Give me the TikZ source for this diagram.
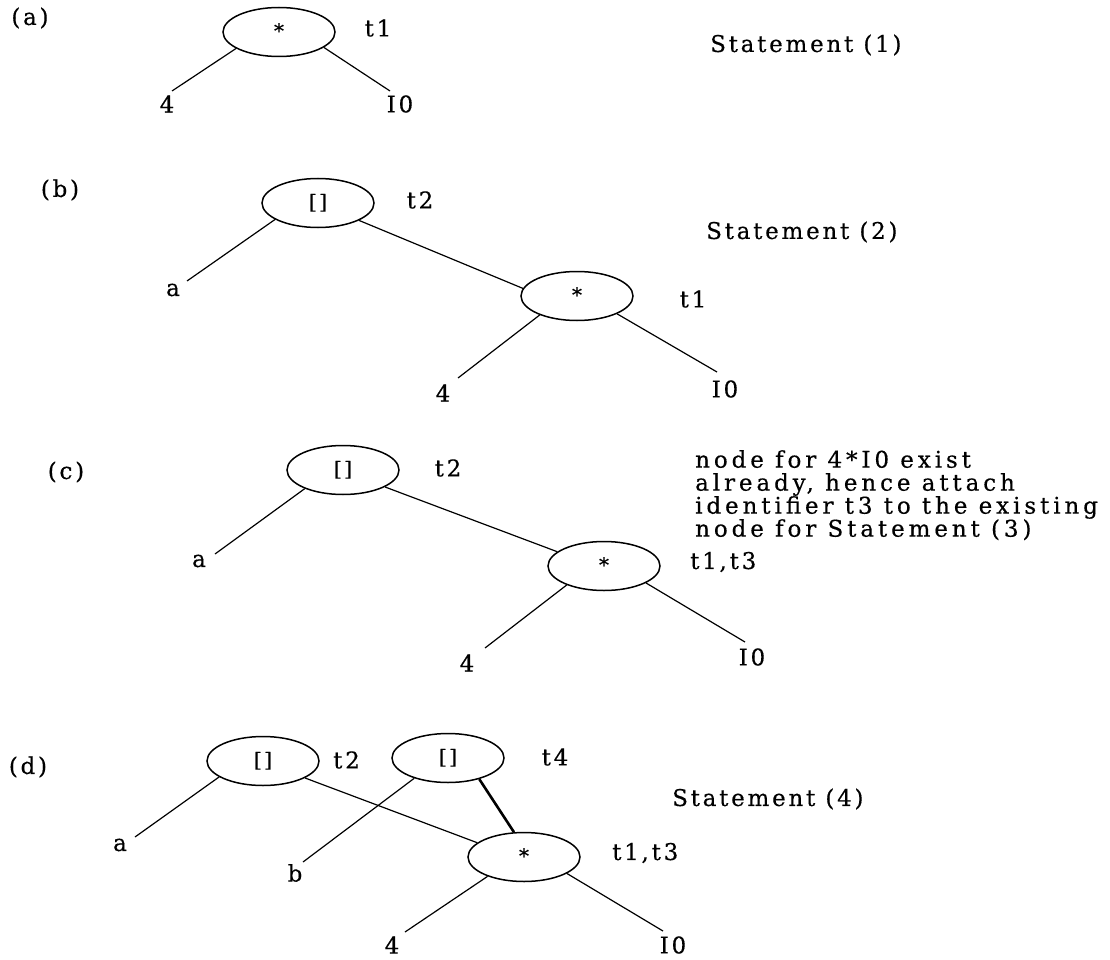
\documentclass[tikz,border=0pt]{standalone}
\usepackage{fontspec}
\newfontfamily\lf[LetterSpace=12,FakeBold=0.4]{DejaVu Serif}
\newfontfamily\pf[LetterSpace=17,FakeBold=0.4]{DejaVu Serif}
\usetikzlibrary{shapes.geometric}
\begin{document}
\begin{tikzpicture}[x=1pt,y=-1pt,
  lab/.style={font=\lf\fontsize{23}{26}\selectfont, inner sep=0pt},
  para/.style={font=\pf\fontsize{23}{23}\selectfont, align=left, inner sep=0pt},
  op/.style={draw, ellipse, minimum width=112pt, minimum height=49pt, inner sep=0pt,
    line width=1.5pt, text height=15pt, text depth=3pt, font=\lf\fontsize{20}{22}\selectfont},
  edge/.style={line width=1.2pt},
  heavy/.style={line width=2.6pt}]
\useasboundingbox (0,0) rectangle (1110,960);

% ---------- (a)
\node[lab] (alab) at (30,18) {(a)};
\node[op] (aop) at (279,32) {*};
\node[lab] (at1) at (378,28) {t1};
\node[lab] (a4) at (167,104) {4};
\node[lab] (aI) at (400,104) {I0};
\node[lab, anchor=west] (astat) at (710,45) {Statement (1)};
\draw[edge] (aop.201) -- ([shift={(5,-13)}]a4.center);
\draw[edge] (aop.341) -- ([shift={(-10,-13)}]aI.center);

% ---------- (b)
\node[lab] (blab) at (60,190) {(b)};
\node[op] (bsub) at (318,203) {[]};
\node[lab] (bt2) at (420,200) {t2};
\node[lab, anchor=west] (bstat) at (706,232) {Statement (2)};
\node[lab] (ba) at (173,290) {a};
\node[op] (bmul) at (577,296) {*};
\node[lab] (bt1) at (693,299) {t1};
\node[lab] (b4) at (443,393) {4};
\node[lab] (bI) at (725,389) {I0};
\draw[edge] (bsub.201) -- ([shift={(14,-9)}]ba.center);
\draw[edge] (bsub.337) -- (bmul.172);
\draw[edge] (bmul.207) -- ([shift={(15,-15)}]b4.center);
\draw[edge] (bmul.336) -- ([shift={(-8,-17)}]bI.center);

% ---------- (c)
\node[lab] (clab) at (66,472) {(c)};
\node[op] (csub) at (343,470) {[]};
\node[lab] (ct2) at (448,468) {t2};
\node[para, anchor=north west] (cnote) at (695,450)
  {node for 4*I0 exist\\already, hence attach\\identifier t3 to the existing\\node for Statement (3)};
\node[lab] (ca) at (199,561) {a};
\node[op] (cmul) at (604,566) {*};
\node[lab, anchor=west] (ct13) at (690,562) {t1,t3};
\node[lab] (c4) at (467,663) {4};
\node[lab] (cI) at (752,657) {I0};
\draw[edge] (csub.206) -- ([shift={(16,-7)}]ca.center);
\draw[edge] (csub.338) -- (cmul.163);
\draw[edge] (cmul.207) -- ([shift={(18,-15)}]c4.center);
\draw[edge] (cmul.338) -- ([shift={(-7,-15)}]cI.center);

% ---------- (d)
\node[lab] (dlab) at (28,767) {(d)};
\node[op] (dsub1) at (263,761) {[]};
\node[lab, anchor=west] (dt2) at (333,760) {t2};
\node[op] (dsub2) at (448,758) {[]};
\node[lab] (dt4) at (555,757) {t4};
\node[lab, anchor=west] (dstat) at (672,799) {Statement (4)};
\node[lab] (da) at (120,845) {a};
\node[lab] (db) at (295,873) {b};
\node[op] (dmul) at (524,857) {*};
\node[lab, anchor=west] (dt13) at (612,853) {t1,t3};
\node[lab] (d4) at (392,945) {4};
\node[lab] (dI) at (673,945) {I0};
\draw[edge] (dsub1.200) -- ([shift={(15,-8)}]da.center);
\draw[edge] (dsub1.338) -- (dmul.163);
\draw[edge] (dsub2.211) -- ([shift={(8,-11)}]db.center);
\draw[heavy] (dsub2.326) -- (dmul.112);
\draw[edge] (dmul.208) -- ([shift={(13,-13)}]d4.center);
\draw[edge] (dmul.339) -- ([shift={(-10,-14)}]dI.center);
\end{tikzpicture}
\end{document}
